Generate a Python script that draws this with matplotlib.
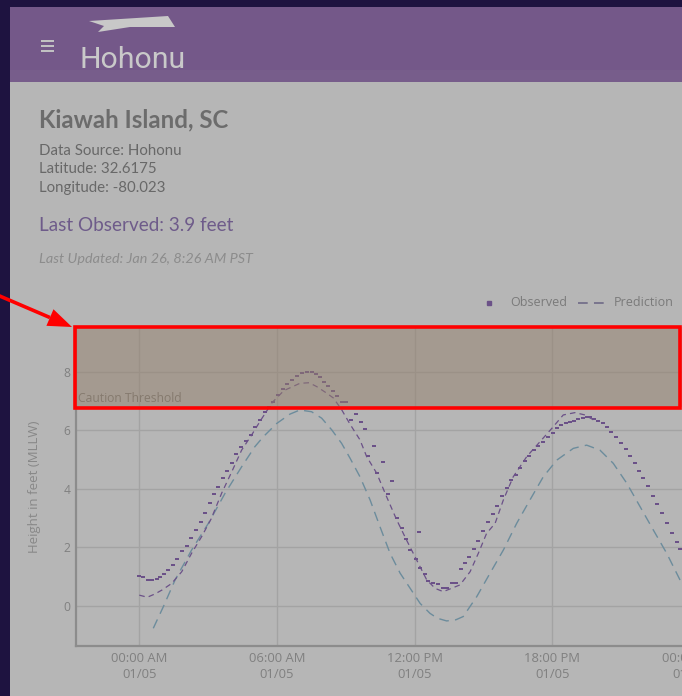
import matplotlib
matplotlib.use("Agg")
import matplotlib.pyplot as plt
from matplotlib.path import Path
from matplotlib.patches import Rectangle, Polygon
import numpy as np

# ---------------- data ----------------
obs_hours = [0.00, 0.17, 0.39, 0.57, 0.76, 0.92, 1.08, 1.27, 1.45, 1.66, 1.85, 2.06, 2.26, 2.46,
             2.67, 2.87, 3.07, 3.26, 3.45, 3.65, 3.84, 4.03, 4.23, 4.42, 4.65, 4.85, 5.04, 5.26,
             5.48, 5.66, 5.84, 6.06, 6.27, 6.45, 6.64, 6.86, 7.08, 7.29, 7.51, 7.70, 7.88, 8.05,
             8.24, 8.43, 8.63, 8.82, 9.01, 9.21, 9.45, 9.65, 9.84, 9.98, 10.23, 10.38, 10.61,
             10.85, 11.00, 11.22, 11.44, 11.63, 11.81, 12.08, 12.21, 12.24, 12.46, 12.60, 12.82,
             13.03, 13.25, 13.43, 13.64, 13.79, 14.01, 14.20, 14.39, 14.59, 14.78, 15.00, 15.21,
             15.40, 15.61, 15.80, 16.02, 16.19, 16.42, 16.60, 16.81, 17.00, 17.21, 17.39, 17.61,
             17.83, 18.02, 18.20, 18.38, 18.60, 18.78, 18.96, 19.14, 19.36, 19.50, 19.65, 19.82,
             20.01, 20.20, 20.37, 20.56, 20.77, 21.00, 21.22, 21.39, 21.61, 21.78, 21.97, 22.19,
             22.41, 22.58, 22.77, 22.99, 23.20, 23.42, 23.57, 23.78]
obs_feet = [1.02, 0.98, 0.89, 0.89, 0.91, 0.98, 1.08, 1.23, 1.40, 1.59, 1.88, 2.05, 2.31, 2.59,
            2.88, 3.18, 3.50, 3.81, 4.07, 4.36, 4.62, 4.89, 5.19, 5.42, 5.64, 5.85, 6.10, 6.35,
            6.63, 6.80, 6.97, 7.20, 7.40, 7.58, 7.71, 7.85, 7.94, 7.97, 7.97, 7.92, 7.80, 7.66,
            7.51, 7.34, 7.17, 6.97, 6.97, 6.35, 6.54, 6.29, 6.03, 5.13, 5.46, 4.53, 4.90,
            3.81, 4.28, 2.99, 2.67, 2.29, 1.91, 1.60, 2.52, 1.29, 1.08, 0.86, 0.77,
            0.74, 0.62, 0.62, 0.80, 0.80, 1.26, 1.48, 1.68, 1.93, 2.23, 2.57, 2.87,
            3.14, 3.41, 3.75, 4.02, 4.30, 4.47, 4.70, 4.95, 5.12, 5.32, 5.47, 5.61,
            5.78, 5.92, 6.06, 6.18, 6.23, 6.29, 6.32, 6.37, 6.43, 6.46, 6.45, 6.37,
            6.31, 6.23, 6.12, 5.93, 5.78, 5.57, 5.35, 5.12, 4.87, 4.62, 4.36, 4.10,
            3.75, 3.48, 3.16, 2.82, 2.50, 2.17, 1.93, 1.65]

adj_hours = [0.0, 0.35, 0.68, 1.0, 1.41, 1.85, 2.28, 2.72, 3.13, 3.59, 4.03, 4.46, 4.9, 5.3,
             5.8, 6.3, 7.0, 7.4, 7.73, 8.1, 8.46, 8.82, 9.19, 9.62, 9.91, 10.35, 10.78, 11.22,
             11.65, 12.09, 12.53, 12.9, 13.25, 13.6, 13.98, 14.42, 14.78, 15.14, 15.51, 15.87,
             16.3, 16.89, 17.47, 17.98, 18.48, 18.99, 19.43, 19.8]
adj_feet = [0.37, 0.30, 0.41, 0.55, 0.77, 1.17, 1.80, 2.37, 2.97, 3.85, 4.58, 5.32, 5.84, 6.35,
            6.95, 7.35, 7.60, 7.62, 7.49, 7.30, 7.10, 6.70, 6.20, 5.67, 5.10, 4.53, 3.73, 2.94,
            2.25, 1.57, 0.89, 0.60, 0.49, 0.60, 0.72, 1.17, 1.80, 2.48, 2.82, 3.62,
            4.41, 5.10, 5.61, 6.06, 6.52, 6.60, 6.52, 6.35]

pred_hours = [0.61, 1.05, 1.56, 2.28, 3.01, 3.74, 4.46, 5.04, 5.41, 5.99, 6.57, 7.0, 7.51, 7.95,
              8.39, 8.82, 9.19, 9.62, 10.06, 10.49, 10.93, 11.37, 11.81, 12.24, 12.67, 13.0,
              13.4, 13.8, 14.12, 14.71, 15.29, 15.87, 16.45, 17.03, 17.61, 18.2, 18.92, 19.5,
              20.08, 20.66, 21.25, 21.83, 22.41, 22.99, 23.57, 24.2]
pred_feet = [-0.76, -0.02, 0.89, 1.91, 2.82, 3.85, 4.75, 5.44, 5.78, 6.23, 6.55, 6.69, 6.63, 6.41,
             6.01, 5.55, 5.04, 4.41, 3.62, 2.71, 1.80, 1.12, 0.60, 0.09, -0.25, -0.42,
             -0.51, -0.47, -0.36, 0.32, 1.12, 1.91, 2.82, 3.62, 4.41, 4.98, 5.38, 5.49,
             5.32, 4.87, 4.19, 3.39, 2.59, 1.80, 0.89, 0.0]

caution_threshold = 6.8
x_ticks = [0, 6, 12, 18, 24]
x_tick_labels = ["00:00 AM\n01/05", "06:00 AM\n01/05", "12:00 PM\n01/05",
                 "18:00 PM\n01/05", "00:00 AM\n01/06"]
y_ticks = [0, 2, 4, 6, 8]

# ---------------- figure ----------------
plt.rcParams['lines.scale_dashes'] = False
W, H = 682, 696
fig = plt.figure(figsize=(W / 100, H / 100), dpi=100)
fig.patch.set_facecolor('#b6b6b6')

bg = fig.add_axes([0, 0, 1, 1], zorder=0)
bg.set_xlim(0, W)
bg.set_ylim(H, 0)
bg.axis('off')

# dark frame and header
bg.add_patch(Rectangle((0, 0), 10, H, color='#1e1340', lw=0))
bg.add_patch(Rectangle((0, 0), W, 7, color='#1e1340', lw=0))
bg.add_patch(Rectangle((10, 7), W - 10, 75, color='#745889', lw=0))
bg.add_patch(Rectangle((10, 70), W - 10, 12, color='#775d8b', lw=0))
# hamburger
for yy in (40.5, 45.5, 50.5):
    bg.plot([41, 54], [yy, yy], color='#c4c4c4', lw=1.4, solid_capstyle='butt')
# logo
bg.add_patch(Polygon([(89, 21), (168, 16), (175, 27), (130, 27), (98, 32), (104, 26)],
                     closed=True, color='#c8c8c8', lw=0))
bg.text(79, 68, "Hohonu", fontsize=21.8, family='Roboto', color='#c9c9c9', va='baseline')

# info text
bg.text(39, 127, "Kiawah Island, SC", fontsize=17.3, family='Lato', weight='bold',
        color='#6c6c6c', va='baseline')
bg.text(39, 155, "Data Source: Hohonu", fontsize=10.8, family='Lato', color='#686868',
        va='baseline')
bg.text(39, 173, "Latitude: 32.6175", fontsize=10.8, family='Lato', color='#686868',
        va='baseline')
bg.text(39, 192, "Longitude: -80.023", fontsize=10.8, family='Lato', color='#686868',
        va='baseline')
bg.text(39, 231, "Last Observed: 3.9 feet", fontsize=13.6, family='Lato', color='#6e5b8a',
        va='baseline')
bg.text(39, 263, "Last Updated: Jan 26, 8:26 AM PST", fontsize=10.4, family='Lato',
        style='italic', color='#8c8c8c', va='baseline')

# legend
bg.plot([489], [302.5], marker='s', ms=2.4, color='#6b5188', lw=0)
bg.text(510, 302.5, "Observed", fontsize=9, family='Open Sans', color='#7a7a7a', va='center')
bg.plot([578, 606], [302.5, 302.5], color='#6f6a86', lw=1.2, dashes=(7, 4.5))
bg.text(614, 302.5, "Prediction", fontsize=9, family='Open Sans', color='#7a7a7a', va='center')

# ---------------- chart ----------------
px_per_h = 22.94
x0_px = 139.3
x_left_px, x_right_px = 76, 700
xlim = ((x_left_px - x0_px) / px_per_h, (x_right_px - x0_px) / px_per_h)
px_per_ft = 29.3
zero_px = 606
y_bot_px, y_top_px = 646, 327
ylim = ((zero_px - y_bot_px) / px_per_ft, (zero_px - y_top_px) / px_per_ft)

ax = fig.add_axes([x_left_px / W, (H - y_bot_px) / H, (x_right_px - x_left_px) / W,
                   (y_bot_px - y_top_px) / H], zorder=5)
ax.set_facecolor('none')
ax.set_xlim(*xlim)
ax.set_ylim(*ylim)
ax.set_xticks(x_ticks)
ax.set_xticklabels(x_tick_labels, linespacing=1.3)
ax.set_yticks(y_ticks)
ax.grid(True, color='#a3a3a3', lw=1.0)
ax.set_axisbelow(True)
for s in ('top', 'right'):
    ax.spines[s].set_visible(False)
for s in ('left', 'bottom'):
    ax.spines[s].set_color('#8c8c8c')
    ax.spines[s].set_linewidth(1.6)
ax.tick_params(length=0, labelsize=8.7, labelcolor='#808080', pad=4)
ax.tick_params(axis='x', labelsize=9.4)
for lab in ax.get_xticklabels() + ax.get_yticklabels():
    lab.set_family('Open Sans')
ax.set_ylabel("Height in feet (MLLW)", fontsize=9.5, family='Open Sans', color='#888888',
              labelpad=16)

ax.plot(pred_hours, pred_feet, color='#6c8c9c', lw=1.0, dashes=(7, 4.5), zorder=2)
ax.plot(adj_hours, adj_feet, color='#6b5188', lw=0.9, dashes=(4, 3), zorder=3)
rect_marker = Path([(-1, -0.55), (1, -0.55), (1, 0.55), (-1, 0.55), (-1, -0.55)],
                   [Path.MOVETO, Path.LINETO, Path.LINETO, Path.LINETO, Path.CLOSEPOLY])
ax.plot(obs_hours, obs_feet, lw=0, marker=rect_marker, ms=3.4, color='#6b5188',
        markeredgewidth=0, zorder=4)

ax.axhspan(caution_threshold, ylim[1], color='#94806c', alpha=0.5, lw=0, zorder=6)
ax.text(xlim[0] + 0.1, caution_threshold + 0.07, "Caution Threshold", fontsize=8.7,
        family='Open Sans', color='#857a6e', va='bottom', ha='left', zorder=7)

# ---------------- annotation overlay ----------------
fg = fig.add_axes([0, 0, 1, 1], zorder=10)
fg.set_xlim(0, W)
fg.set_ylim(H, 0)
fg.axis('off')
fg.patch.set_alpha(0)
fg.add_patch(Rectangle((75, 326.5), 605, 81.5, fill=False, edgecolor='#ff0000', lw=2.6))
tip = np.array([72.0, 327.0])
start = np.array([-5.0, 294.0])
d = (tip - start) / np.linalg.norm(tip - start)
n = np.array([-d[1], d[0]])
base = tip - 24 * d
fg.plot([start[0], base[0]], [start[1], base[1]], color='#ff0000', lw=2.6,
        solid_capstyle='butt')
fg.add_patch(Polygon([tip, base + 9 * n, base - 9 * n], closed=True, color='#ff0000', lw=0))

fig.savefig("out.png", dpi=100, facecolor=fig.get_facecolor())
